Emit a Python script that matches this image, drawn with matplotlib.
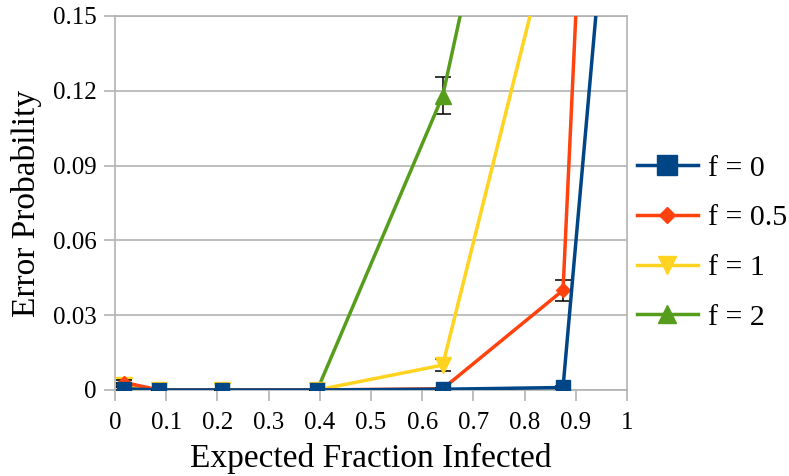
import matplotlib
matplotlib.use('Agg')
import matplotlib.pyplot as plt
from matplotlib.lines import Line2D

plt.rcParams['font.family'] = ['Liberation Serif', 'DejaVu Serif']

# expected fraction infected (last point lies above the visible range)
x = [0.018, 0.086, 0.209, 0.395, 0.64, 0.875, 0.97]

# error probability per f value
err_f0 = [0.0005, 0.0, 0.0, 0.0, 0.0003, 0.001, 0.222]
err_f05 = [0.003, 0.0, 0.0, 0.0, 0.0005, 0.040, 0.46]
err_f1 = [0.002, 0.0, 0.0, 0.0, 0.010, 0.203, 0.50]
err_f2 = [0.002, 0.0, 0.0, 0.0, 0.118, 0.339, 0.60]

# error bar half widths
ci_f0 = [0.0005, 0.0, 0.0, 0.0, 0.0003, 0.0006, 0.0]
ci_f05 = [0.001, 0.0, 0.0, 0.0, 0.0004, 0.0042, 0.0]
ci_f1 = [0.001, 0.0, 0.0, 0.0, 0.0024, 0.0, 0.0]
ci_f2 = [0.001, 0.0, 0.0, 0.0, 0.0074, 0.0, 0.0]

xticks = [0, 0.1, 0.2, 0.3, 0.4, 0.5, 0.6, 0.7, 0.8, 0.9, 1]
xtick_labels = ['0', '0.1', '0.2', '0.3', '0.4', '0.5', '0.6', '0.7', '0.8', '0.9', '1']
yticks = [0, 0.03, 0.06, 0.09, 0.12, 0.15]
ytick_labels = ['0', '0.03', '0.06', '0.09', '0.12', '0.15']

labels = ['f = 0', 'f = 0.5', 'f = 1', 'f = 2']
colors = ['#004586', '#ff420e', '#ffd320', '#579d1c']
markers = ['s', 'D', 'v', '^']
msizes = [9.5, 7.2, 11, 11.5]
leg_msizes = [14, 8, 13.5, 13.5]

fig = plt.figure(figsize=(7.89, 4.76), dpi=100)
ax = fig.add_axes([0.1458, 0.1807, 0.6489, 0.7857])

series = [err_f0, err_f05, err_f1, err_f2]
cis = [ci_f0, ci_f05, ci_f1, ci_f2]

# draw back to front like the original: green at the back, blue on top
for i in [3, 2, 1, 0]:
    ax.errorbar(x, series[i], yerr=cis[i], color=colors[i], marker=markers[i],
                markersize=msizes[i], linewidth=2.5,
                ecolor='black', elinewidth=1.1, capsize=5.5, capthick=1.1,
                zorder=3 + (3 - i))

ax.set_xlim(0, 1)
ax.set_ylim(0, 0.15)
ax.set_xticks(xticks)
ax.set_xticklabels(xtick_labels, fontsize=18)
ax.set_yticks(yticks)
ax.set_yticklabels(ytick_labels, fontsize=18)

ax.grid(axis='y', color='#b3b3b3', linewidth=1.2)
ax.set_axisbelow(True)
for s in ['left', 'right', 'bottom', 'top']:
    ax.spines[s].set_color('#b3b3b3')
    ax.spines[s].set_linewidth(1.2)
ax.tick_params(axis='both', color='#b3b3b3', width=1.2, labelcolor='black')
ax.tick_params(axis='x', length=8, pad=8)
ax.tick_params(axis='y', length=8, pad=5)

ax.set_xlabel('Expected Fraction Infected', fontsize=24, labelpad=6)
ax.set_ylabel('Error Probability', fontsize=24, labelpad=8)

handles = [Line2D([], [], color=colors[i], marker=markers[i], markersize=leg_msizes[i],
                  linewidth=2.5) for i in range(4)]
fig.legend(handles, labels, loc='center left', bbox_to_anchor=(0.807, 0.49),
           frameon=False, fontsize=21.5, handlelength=2.05, labelspacing=0.76,
           handletextpad=0.35, borderpad=0, borderaxespad=0)

fig.savefig('out.png', dpi=100)
